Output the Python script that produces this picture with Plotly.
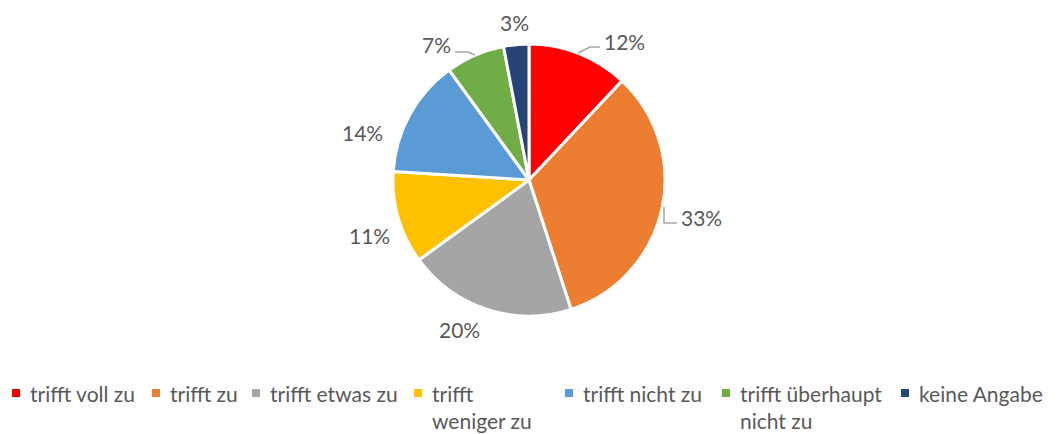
import math

import plotly.graph_objects as go

labels = ["trifft voll zu", "trifft zu", "trifft etwas zu", "trifft<br>weniger zu",
          "trifft nicht zu", "trifft überhaupt<br>nicht zu", "keine Angabe"]
values = [12, 33, 20, 11, 14, 7, 3]
colors = ["#ff0000", "#ed7d31", "#a5a5a5", "#ffc000", "#5b9bd5", "#70ad47", "#264478"]

W, H = 1064, 434
FONT = "Lato, Open Sans, sans-serif"
TEXT = "#595959"
FS = 21

# the page body has an 8px default margin, so shift everything back by it
OFF = 8

# pie geometry in screen pixels (centre + radius), domain derived from it
CX, CY, R = 529, 180, 136

# label placement tweaks (Excel "best fit" moves some labels off the mid angle)
_LABEL_SHIFT = [13, -0.5, 7, -3, -13, -11, 0]       # degrees
_LABEL_DIST = [1.24, 1.30, 1.21, 1.24, 1.27, 1.21, 1.16]  # x radius

# legend layout: left edge of each square marker (px)
_LEGEND_X = [12, 152, 252, 414, 565, 722, 901]
_LEGEND_Y = 393

fig = go.Figure(
    go.Pie(
        labels=labels,
        values=values,
        sort=False,
        direction="clockwise",
        rotation=0,
        marker=dict(colors=colors, line=dict(color="white", width=3)),
        textinfo="none",
        domain=dict(
            x=[(CX - R - OFF) / W, (CX + R - OFF) / W],
            y=[1 - (CY + R - OFF) / H, 1 - (CY - R - OFF) / H],
        ),
        hoverinfo="label+percent",
        showlegend=False,
    )
)

# percentage labels, placed from each slice's mid angle
total = sum(values)
cum = 0
for i, v in enumerate(values):
    mid = (cum + v / 2) / total * 360
    cum += v
    a = math.radians(mid + _LABEL_SHIFT[i])
    d = R * _LABEL_DIST[i]
    fig.add_annotation(
        x=CX + d * math.sin(a), y=CY - d * math.cos(a),
        text=f"{round(v / total * 100)}%", showarrow=False,
        font=dict(size=FS, color=TEXT, family=FONT),
        xanchor="center", yanchor="middle",
    )

# leader lines
LEADER = dict(color="#a6a6a6", width=1.5)
for path in (
    "M 578 53 L 590 47 L 600 47",
    "M 455 52 L 468 52 L 475 55",
    "M 664 207 L 664 223 L 677 223",
):
    fig.add_shape(type="path", path=path, xref="x", yref="y", line=LEADER)

# legend (Excel-style, bottom row)
for i, name in enumerate(labels):
    x0 = _LEGEND_X[i]
    fig.add_shape(type="rect", xref="x", yref="y", x0=x0, x1=x0 + 8,
                  y0=_LEGEND_Y - 4, y1=_LEGEND_Y + 4,
                  fillcolor=colors[i], line=dict(width=0))
    fig.add_annotation(
        x=x0 + 16, y=_LEGEND_Y - 14, text=name, showarrow=False,
        xanchor="left", yanchor="top", align="left",
        font=dict(size=FS, color=TEXT, family=FONT),
    )

fig.update_layout(
    width=W,
    height=H,
    margin=dict(l=0, r=0, t=0, b=0),
    paper_bgcolor="white",
    plot_bgcolor="white",
    font=dict(family=FONT, color=TEXT, size=FS),
    showlegend=False,
    xaxis=dict(range=[OFF, W + OFF], visible=False, fixedrange=True),
    yaxis=dict(range=[H + OFF, OFF], visible=False, fixedrange=True),
)

fig.write_html("out.html")
